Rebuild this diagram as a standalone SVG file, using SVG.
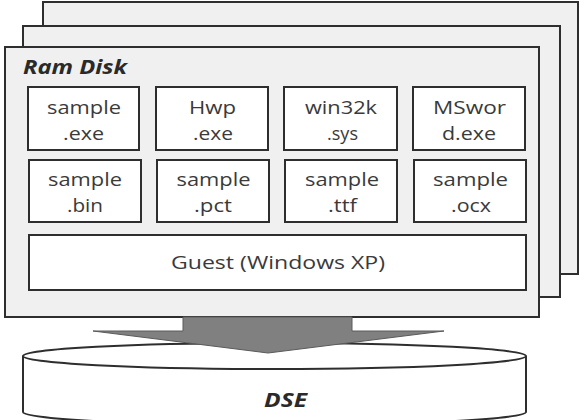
<svg xmlns="http://www.w3.org/2000/svg" width="587" height="420" viewBox="0 0 587 420">
<style>
.card{fill:#f0f0f0;stroke:#2e2e2e;stroke-width:2}
.box{fill:#ffffff;stroke:#2e2e2e;stroke-width:2}
.t{font-family:"Open Sans","Noto Sans","Liberation Sans",sans-serif;font-size:18.5px;fill:#3a3a3a;text-anchor:middle}
.ti{font-family:"Open Sans","Noto Sans","Liberation Sans",sans-serif;font-size:20px;font-weight:bold;font-style:italic;fill:#2a2a2a}
.cyl{fill:#ffffff;stroke:#2e2e2e;stroke-width:2}
</style>
<rect fill="#ffffff" width="587" height="420"/>
<g id="card-back"><rect class="card" x="43" y="2" width="535" height="272"/></g>
<g id="card-middle"><rect class="card" x="23" y="26" width="537" height="271"/></g>
<g id="ram-disk">
<rect class="card" x="5" y="47" width="534" height="270"/>
<text class="ti" x="23" y="74" textLength="104" lengthAdjust="spacingAndGlyphs">Ram Disk</text>
</g>
<g id="sample-exe"><rect class="box" x="28" y="87" width="111" height="63"/><text class="t" x="84" y="114" textLength="74" lengthAdjust="spacingAndGlyphs">sample</text><text class="t" x="83.5" y="139.5" textLength="41" lengthAdjust="spacingAndGlyphs">.exe</text></g>
<g id="hwp-exe"><rect class="box" x="156" y="87" width="112" height="63"/><text class="t" x="212.5" y="114" textLength="47" lengthAdjust="spacingAndGlyphs">Hwp</text><text class="t" x="213" y="139.5" textLength="40" lengthAdjust="spacingAndGlyphs">.exe</text></g>
<g id="win32k-sys"><rect class="box" x="284" y="87" width="113" height="63"/><text class="t" x="341" y="114" textLength="72" lengthAdjust="spacingAndGlyphs">win32k</text><text class="t" x="342.5" y="139.5" textLength="31" lengthAdjust="spacingAndGlyphs">.sys</text></g>
<g id="msword-exe"><rect class="box" x="413" y="87" width="112" height="63"/><text class="t" x="469.5" y="114" textLength="73" lengthAdjust="spacingAndGlyphs">MSwor</text><text class="t" x="469" y="139.5" textLength="54" lengthAdjust="spacingAndGlyphs">d.exe</text></g>
<g id="sample-bin"><rect class="box" x="29" y="160" width="112" height="62"/><text class="t" x="85" y="186" textLength="74" lengthAdjust="spacingAndGlyphs">sample</text><text class="t" x="85" y="211.5" textLength="36" lengthAdjust="spacingAndGlyphs">.bin</text></g>
<g id="sample-pct"><rect class="box" x="157" y="160" width="112" height="62"/><text class="t" x="213.5" y="186" textLength="74" lengthAdjust="spacingAndGlyphs">sample</text><text class="t" x="213" y="211.5" textLength="38" lengthAdjust="spacingAndGlyphs">.pct</text></g>
<g id="sample-ttf"><rect class="box" x="285" y="160" width="112" height="62"/><text class="t" x="342" y="186" textLength="74" lengthAdjust="spacingAndGlyphs">sample</text><text class="t" x="342.5" y="211.5" textLength="29" lengthAdjust="spacingAndGlyphs">.ttf</text></g>
<g id="sample-ocx"><rect class="box" x="414" y="160" width="112" height="62"/><text class="t" x="470.5" y="186" textLength="75" lengthAdjust="spacingAndGlyphs">sample</text><text class="t" x="471" y="211.5" textLength="40" lengthAdjust="spacingAndGlyphs">.ocx</text></g>
<g id="guest"><rect class="box" x="29" y="235" width="497" height="55"/><text class="t" x="278" y="269" textLength="214" lengthAdjust="spacingAndGlyphs">Guest (Windows XP)</text></g>
<g id="dse">
<path class="cyl" d="M23,356 L23,412 A251.5,13 0 0 0 526,412 L526,356"/>
<ellipse class="cyl" cx="274.5" cy="356" rx="251.5" ry="13"/>
<text class="ti" x="285.5" y="407" text-anchor="middle" textLength="43" lengthAdjust="spacingAndGlyphs">DSE</text>
</g>
<g id="connectors">
<path d="M183,317 L352,317 L352,331 L444,331 L268,353 L93,331 L183,331 Z" fill="#808080" stroke="#5a5a5a" stroke-width="1"/>
</g>
</svg>
